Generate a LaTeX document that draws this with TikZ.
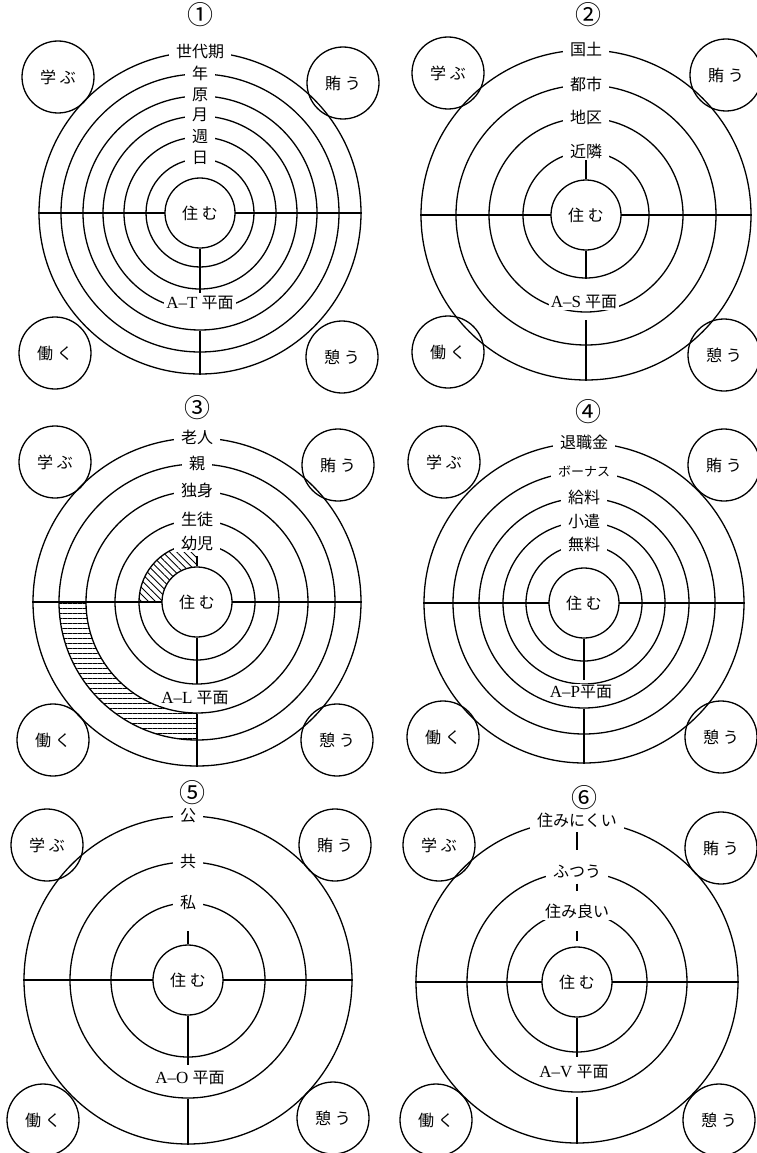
\documentclass[tikz,border=0pt]{standalone}
\usepackage{fontspec}
\newfontfamily\jp{Noto Sans CJK JP}
\newfontfamily\lat{Liberation Serif}
\usetikzlibrary{patterns.meta}

\begin{document}
\begin{tikzpicture}[x=1pt,y=-1pt,line width=1.3pt,
  ring/.style={circle, draw, inner sep=0pt},
  hub/.style={circle, draw, fill=white, minimum size=70pt, inner sep=0pt, font=\jp\fontsize{16}{18}\selectfont},
  act/.style={circle, draw, minimum size=72pt, inner sep=0pt, font=\jp\fontsize{16}{18}\selectfont},
  tag/.style={fill=white, inner xsep=7pt, inner ysep=1pt, font=\jp\fontsize{16}{18}\selectfont},
  plane/.style={fill=white, inner xsep=2pt, inner ysep=2.5pt, font=\lat\fontsize{17}{19}\selectfont},
  num/.style={font=\jp\fontsize{26}{28}\selectfont}]
\useasboundingbox (0,0) rectangle (756,1153);

% (1) A-T
\coordinate (m1) at (200,213);
\node[num] (n1) at (200,15) {①};
\node[ring, minimum size=322pt] (r11) at (m1) {};
\node[ring, minimum size=278pt] (r12) at (m1) {};
\node[ring, minimum size=234pt] (r13) at (m1) {};
\node[ring, minimum size=194pt] (r14) at (m1) {};
\node[ring, minimum size=152pt] (r15) at (m1) {};
\node[ring, minimum size=108pt] (r16) at (m1) {};
\draw (r11.west) -- (r11.east);
\node[hub] (c1) at (m1) {住 む};
\node[plane] (pl1) at (200,303) {A–T {\jp\fontsize{16}{18}\selectfont 平面}};
\draw (c1) -- (c1 |- pl1.north);
\draw (r13.south) -- (r11.south);
\node[tag] (l11) at (r11.north) {世代期};
\node[tag] (l12) at (r12.north) {年};
\node[tag] (l13) at (r13.north) {原};
\node[tag] (l14) at (r14.north) {月};
\node[tag] (l15) at (r15.north) {週};
\node[tag] (l16) at (r16.north) {日};
\node[act] (a11) at (58,77) {学 ぶ};
\node[act] (a12) at (343,83) {賄 う};
\node[act] (a13) at (55,353) {働 く};
\node[act] (a14) at (342,357) {憩 う};

% (2) A-S
\coordinate (m2) at (586,215);
\node[num] (n2) at (588,15) {②};
\node[ring, minimum size=330pt] (r21) at (m2) {};
\node[ring, minimum size=260pt] (r22) at (m2) {};
\node[ring, minimum size=194pt] (r23) at (m2) {};
\node[ring, minimum size=126pt] (r24) at (m2) {};
\draw (r21.west) -- (r21.east);
\node[hub] (c2) at (m2) {住 む};
\node[plane, inner ysep=1pt] (pl2) at (584,302) {A–S {\jp\fontsize{16}{18}\selectfont 平面}};
\draw (c2) -- (r24.south);
\draw[shorten <=10pt] (c2 |- pl2.south) -- (r21.south);
\node[tag] (l21) at (r21.north) {国土};
\node[tag] (l22) at (r22.north) {都市};
\node[tag] (l23) at (r23.north) {地区};
\node[tag] (l24) at (r24.north) {近隣};
\draw (l24) -- (c2);
\node[act] (a21) at (448,73) {学 ぶ};
\node[act] (a22) at (726,75) {賄 う};
\node[act] (a23) at (448,352) {働 く};
\node[act] (a24) at (724,355) {憩 う};

% (3) A-L
\coordinate (m3) at (197,602);
\node[num] (n3) at (197,408) {③};
\fill[pattern={Lines[angle=-45,distance=5pt,line width=0.9pt]}] ([shift={(180:58)}]m3) arc[start angle=180, end angle=270, radius=58] -- ([shift={(270:35)}]m3) arc[start angle=270, end angle=180, radius=35] -- cycle;
\fill[pattern={Lines[angle=0,distance=5pt,line width=0.9pt]}] ([shift={(180:138)}]m3) arc[start angle=180, end angle=90, radius=138] -- ([shift={(90:111)}]m3) arc[start angle=90, end angle=180, radius=111] -- cycle;
\node[ring, minimum size=328pt] (r31) at (m3) {};
\node[ring, minimum size=276pt] (r32) at (m3) {};
\node[ring, minimum size=222pt] (r33) at (m3) {};
\node[ring, minimum size=164pt] (r34) at (m3) {};
\node[ring, minimum size=116pt] (r35) at (m3) {};
\draw (r31.west) -- (r31.east);
\node[hub] (c3) at (m3) {住 む};
\node[plane, inner ysep=1pt] (pl3) at (195,698) {A–L {\jp\fontsize{16}{18}\selectfont 平面}};
\draw[shorten >=6pt] (c3) -- (c3 |- pl3.north);
\draw (r33.south) -- (r31.south);
\node[tag] (l31) at (r31.north) {老人};
\node[tag] (l32) at (r32.north) {親};
\node[tag] (l33) at (r33.north) {独身};
\node[tag] (l34) at (r34.north) {生徒};
\node[tag] (l35) at (r35.north) {幼児};
\draw[shorten <=4pt] (l35) -- (c3);
\node[act] (a31) at (55,462) {学 ぶ};
\node[act] (a32) at (338,465) {賄 う};
\node[act] (a33) at (53,740) {働 く};
\node[act] (a34) at (337,740) {憩 う};

% (4) A-P
\coordinate (m4) at (584,603);
\node[num] (n4) at (588,412) {④};
\node[ring, minimum size=320pt] (r41) at (m4) {};
\node[ring, minimum size=262pt] (r42) at (m4) {};
\node[ring, minimum size=210pt] (r43) at (m4) {};
\node[ring, minimum size=162pt] (r44) at (m4) {};
\node[ring, minimum size=116pt] (r45) at (m4) {};
\draw (r41.west) -- (r41.east);
\node[hub] (c4) at (m4) {住 む};
\node[plane, inner ysep=1pt] (pl4) at (581,692) {A–P{\jp\fontsize{16}{18}\selectfont 平面}};
\draw[shorten >=4pt] (c4) -- (c4 |- pl4.north);
\draw (r43.south) -- (r41.south);
\node[tag] (l41) at (r41.north) {退職金};
\node[tag, font=\jp\fontsize{13}{15}\selectfont] (l42) at (r42.north) {ボーナス};
\node[tag] (l43) at (r43.north) {給料};
\node[tag] (l44) at (r44.north) {小遣};
\node[tag] (l45) at (r45.north) {無料};
\node[act] (a41) at (444,462) {学 ぶ};
\node[act] (a42) at (724,465) {賄 う};
\node[act] (a43) at (443,737) {働 く};
\node[act] (a44) at (721,737) {憩 う};

% (5) A-O
\coordinate (m5) at (188,980);
\node[num] (n5) at (192,793) {⑤};
\node[ring, minimum size=328pt] (r51) at (m5) {};
\node[ring, minimum size=236pt] (r52) at (m5) {};
\node[ring, minimum size=154pt] (r53) at (m5) {};
\draw (r51.west) -- (r51.east);
\node[hub] (c5) at (m5) {住 む};
\node[plane] (pl5) at (190,1078) {A–O {\jp\fontsize{16}{18}\selectfont 平面}};
\draw[shorten >=3pt] (c5) -- (c5 |- pl5.north);
\draw (r52.south) -- (r51.south);
\node[tag] (l51) at (r51.north) {公};
\node[tag] (l52) at (r52.north) {共};
\node[tag] (l53) at (r53.north) {私};
\draw[shorten <=20pt] (l53) -- (c5);
\node[act] (a51) at (47,845) {学 ぶ};
\node[act] (a52) at (335,845) {賄 う};
\node[act] (a53) at (43,1120) {働 く};
\node[act] (a54) at (333,1118) {憩 う};

% (6) A-V
\coordinate (m6) at (577,982);
\node[num] (n6) at (584,798) {⑥};
\node[ring, minimum size=322pt] (r61) at (m6) {};
\node[ring, minimum size=220pt] (r62) at (m6) {};
\node[ring, minimum size=140pt] (r63) at (m6) {};
\draw (r61.west) -- (r61.east);
\node[hub] (c6) at (m6) {住 む};
\node[plane] (pl6) at (574,1072) {A–V {\jp\fontsize{16}{18}\selectfont 平面}};
\draw[shorten >=5pt] (c6) -- (c6 |- pl6.north);
\draw[shorten <=15pt] (c6 |- pl6.south) -- (r61.south);
\node[tag] (l61) at (r61.north) {住みにくい};
\node[tag] (l62) at (r62.north) {ふつう};
\node[tag, inner xsep=10pt] (l63) at (r63.north) {住み良い};
\draw[shorten <=3pt, shorten >=13pt] (l61) -- (l62);
\draw[shorten <=4pt, shorten >=11pt] (l62) -- (l63);
\draw[shorten <=11pt, shorten >=5pt] (l63) -- (c6);
\node[act] (a61) at (439,845) {学 ぶ};
\node[act] (a62) at (721,848) {賄 う};
\node[act] (a63) at (436,1120) {働 く};
\node[act] (a64) at (719,1120) {憩 う};
\end{tikzpicture}
\end{document}
